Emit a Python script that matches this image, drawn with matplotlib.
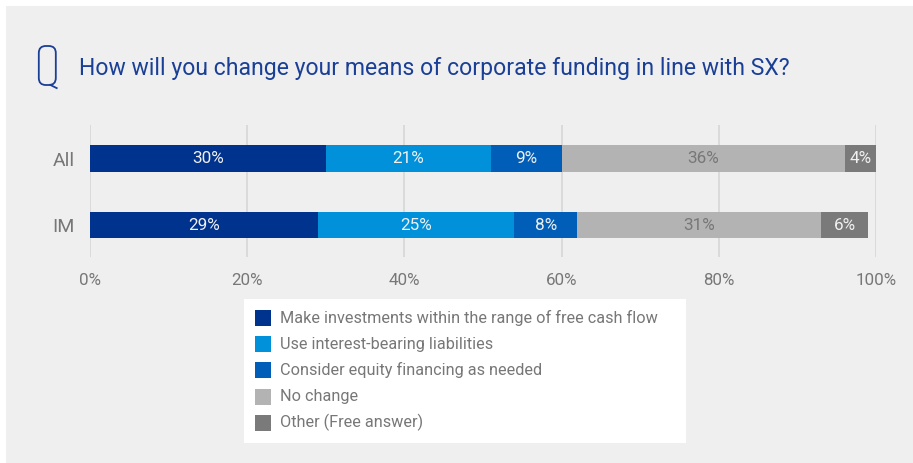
import matplotlib
matplotlib.use("Agg")
import matplotlib.pyplot as plt
from matplotlib.patches import FancyBboxPatch, Rectangle

# Survey responses (%)
groups = ["All", "IM"]
answers = [
    "Make investments within the range of free cash flow",
    "Use interest-bearing liabilities",
    "Consider equity financing as needed",
    "No change",
    "Other (Free answer)",
]
values_all = [30, 21, 9, 36, 4]
values_im = [29, 25, 8, 31, 6]
tick_values = [0, 20, 40, 60, 80, 100]
tick_labels = ["0%", "20%", "40%", "60%", "80%", "100%"]
title = "How will you change your means of corporate funding in line with SX?"

colors = ["#00338d", "#0091da", "#005eb8", "#b3b3b3", "#7a7a7a"]
label_colors = ["#f0f0f0", "#f0f0f0", "#f0f0f0", "#777777", "#f0f0f0"]
bg = "#efefef"
grey_text = "#777777"
title_blue = "#1a3f96"
FONT = "Roboto"

W, H = 913, 463
fig = plt.figure(figsize=(W / 100, H / 100), dpi=100)
fig.patch.set_facecolor("white")

# background layer in pixel coordinates (panel, icon, title, legend)
bgax = fig.add_axes([0, 0, 1, 1], zorder=0)
bgax.set_xlim(0, W)
bgax.set_ylim(H, 0)
bgax.axis("off")
bgax.add_patch(Rectangle((6, 6), W - 6, H - 6, facecolor=bg, edgecolor="none"))

# question icon: rounded outline with a tail
bgax.add_patch(FancyBboxPatch((38.8, 46), 17, 39,
                              boxstyle="round,pad=0,rounding_size=7",
                              facecolor="none", edgecolor=title_blue, linewidth=1.3))
bgax.plot([49.5, 57.5], [84.5, 88.5], color=title_blue, linewidth=1.3,
          solid_capstyle="butt")

bgax.text(79, 69, title, fontsize=16.6, color=title_blue, family=FONT,
          va="center", ha="left")

# legend box
bgax.add_patch(Rectangle((244, 299), 686 - 244, 443 - 299, facecolor="white",
                         edgecolor="none"))
row0, step = 318, 26.2
for k, name in enumerate(answers):
    cy = row0 + k * step
    bgax.add_patch(Rectangle((255, cy - 8), 16, 16, facecolor=colors[k], edgecolor="none"))
    bgax.text(280, cy, name, fontsize=11.7, color=grey_text, family=FONT,
              va="center", ha="left")

# bar chart axes
top, bottom = 125, 257
ax = fig.add_axes([90 / W, 1 - bottom / H, (876 - 90) / W, (bottom - top) / H], zorder=2)
ax.set_facecolor("none")
ax.set_xlim(0, 100)
ax.set_ylim(1.48, -0.504)
for s in ax.spines.values():
    s.set_visible(False)

for t in tick_values:
    ax.axvline(t, color="#d6d6d6", linewidth=1.2, zorder=0)

bar_h = 0.4
for yi, vals in enumerate([values_all, values_im]):
    left = 0
    for k, v in enumerate(vals):
        ax.barh(yi, v, left=left, height=bar_h, color=colors[k], edgecolor="none", zorder=2)
        ax.text(left + v / 2, yi, f"{v}%", ha="center", va="center", fontsize=12.3,
                color=label_colors[k], family=FONT, zorder=3)
        left += v

ax.set_yticks(range(len(groups)))
ax.set_yticklabels(groups, fontsize=14, color=grey_text, family=FONT)
ax.set_xticks(tick_values)
ax.set_xticklabels(tick_labels, fontsize=12.2, color=grey_text, family=FONT)
ax.tick_params(axis="both", length=0)
ax.tick_params(axis="x", pad=11.5)
ax.tick_params(axis="y", pad=11)

fig.savefig("out.png", dpi=100, facecolor=fig.get_facecolor())
